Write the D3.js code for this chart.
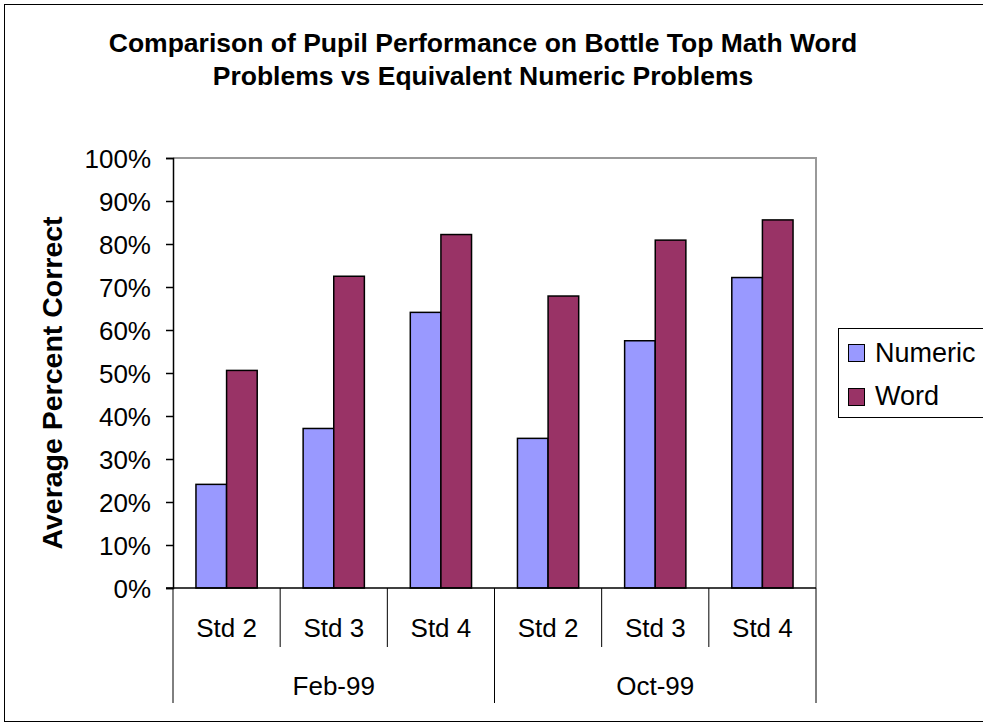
<!DOCTYPE html>
<html>
<head>
<meta charset="utf-8">
<script src="https://cdn.jsdelivr.net/npm/d3@7"></script>
<style>
html,body{margin:0;padding:0;background:#fff;}
svg{display:block;font-family:"Liberation Sans",Arial,sans-serif;}
</style>
</head>
<body>
<svg id="chart" width="983" height="727"></svg>
<script>
const periods = ["Feb-99", "Oct-99"];
const standards = ["Std 2", "Std 3", "Std 4"];
const seriesNames = ["Numeric", "Word"];
const numericValues = [24.1, 37.1, 64.1, 34.8, 57.5, 72.2];
const wordValues = [50.6, 72.5, 82.2, 67.9, 80.9, 85.6];
const yTicks = [0, 10, 20, 30, 40, 50, 60, 70, 80, 90, 100];
const colors = ["#9999FF", "#993366"];
const titleLines = ["Comparison of Pupil Performance on Bottle Top Math Word", "Problems vs Equivalent Numeric Problems"];

const FONT = "Liberation Sans, Arial, sans-serif";
const svg = d3.select("#chart");
// outer border
svg.append("rect").attr("x",4.5).attr("y",4.5).attr("width",990).attr("height",717)
  .attr("fill","none").attr("stroke","#000").attr("stroke-width",1);

const L = 173, R = 816, T = 158, B = 588;
const cats = [];
periods.forEach(p => standards.forEach(s => cats.push({p, s, key: p + "|" + s})));
const data = cats.map((c, i) => ({...c, values: [numericValues[i], wordValues[i]]}));

const x0 = d3.scaleBand().domain(cats.map(c => c.key)).range([L, R]).paddingInner(0).paddingOuter(0);
const x1 = d3.scaleBand().domain(seriesNames).range([0, x0.bandwidth()]).paddingOuter(0.75).paddingInner(0);
const y = d3.scaleLinear().domain([0, 100]).range([B, T]);

// plot area frame (gray top/right)
svg.append("path").attr("d", `M${L},${T}H${R}V${B}`).attr("fill","none").attr("stroke","#999").attr("stroke-width",2);

// bars
const g = svg.append("g");
data.forEach(d => {
  seriesNames.forEach((sn, j) => {
    g.append("rect")
      .attr("x", x0(d.key) + x1(sn))
      .attr("y", y(d.values[j]))
      .attr("width", x1.bandwidth())
      .attr("height", y(0) - y(d.values[j]))
      .attr("fill", colors[j])
      .attr("stroke", "#000").attr("stroke-width", 1.5);
  });
});

// y axis
const yAxis = d3.axisLeft(y).tickValues(yTicks).tickSize(7).tickFormat(d => d + "%").tickPadding(15);
const ya = svg.append("g").attr("transform", `translate(${L},0)`).call(yAxis);
ya.attr("font-size", null).attr("font-family", null);
ya.select(".domain").attr("stroke","#000").attr("stroke-width",1.5);
ya.selectAll(".tick line").attr("stroke","#000").attr("stroke-width",1.5);
ya.selectAll(".tick text").attr("font-size", 26).attr("fill","#000").attr("font-family",FONT).attr("dy","0.36em");

// x axis baseline
svg.append("line").attr("x1", L - 7).attr("x2", R).attr("y1", B).attr("y2", B).attr("stroke","#000").attr("stroke-width",1.5);

// category separators
const boundaries = d3.range(cats.length + 1).map(i => i === cats.length ? R : x0(cats[i].key));
boundaries.forEach((bx, i) => {
  const isGroup = i % standards.length === 0;
  svg.append("line").attr("x1", bx).attr("x2", bx).attr("y1", B).attr("y2", isGroup ? 703 : 647)
    .attr("stroke","#000").attr("stroke-width",1);
});
// std labels
data.forEach(d => {
  svg.append("text").attr("x", x0(d.key) + x0.bandwidth()/2).attr("y", 637)
    .attr("text-anchor","middle").attr("font-size",26).text(d.s);
});
// period labels
periods.forEach((p, i) => {
  const x = (x0(cats[i*3].key) + x0(cats[i*3+2].key) + x0.bandwidth()) / 2;
  svg.append("text").attr("x", x).attr("y", 695).attr("text-anchor","middle").attr("font-size",26).text(p);
});

// title
titleLines.forEach((t, i) => {
  svg.append("text").attr("x", 483).attr("y", 52 + i*33).attr("text-anchor","middle")
    .attr("font-size",26.5).attr("font-weight","bold").text(t);
});

// y label
svg.append("text").attr("transform", `translate(62,${(T+B)/2 + 10}) rotate(-90)`)
  .attr("text-anchor","middle").attr("font-size",28.5).attr("font-weight","bold").text("Average Percent Correct");

// legend
const lg = svg.append("g");
lg.append("rect").attr("x",838.5).attr("y",328.5).attr("width",160).attr("height",89).attr("fill","#fff").attr("stroke","#000").attr("stroke-width",1);
seriesNames.forEach((sn, j) => {
  const top = 344 + j*44;
  lg.append("rect").attr("x",848.5).attr("y",top+0.5).attr("width",16).attr("height",17).attr("fill",colors[j]).attr("stroke","#000").attr("stroke-width",1);
  lg.append("text").attr("x",875).attr("y",362 + j*43).attr("font-size",27).text(sn);
});
</script>
</body>
</html>
